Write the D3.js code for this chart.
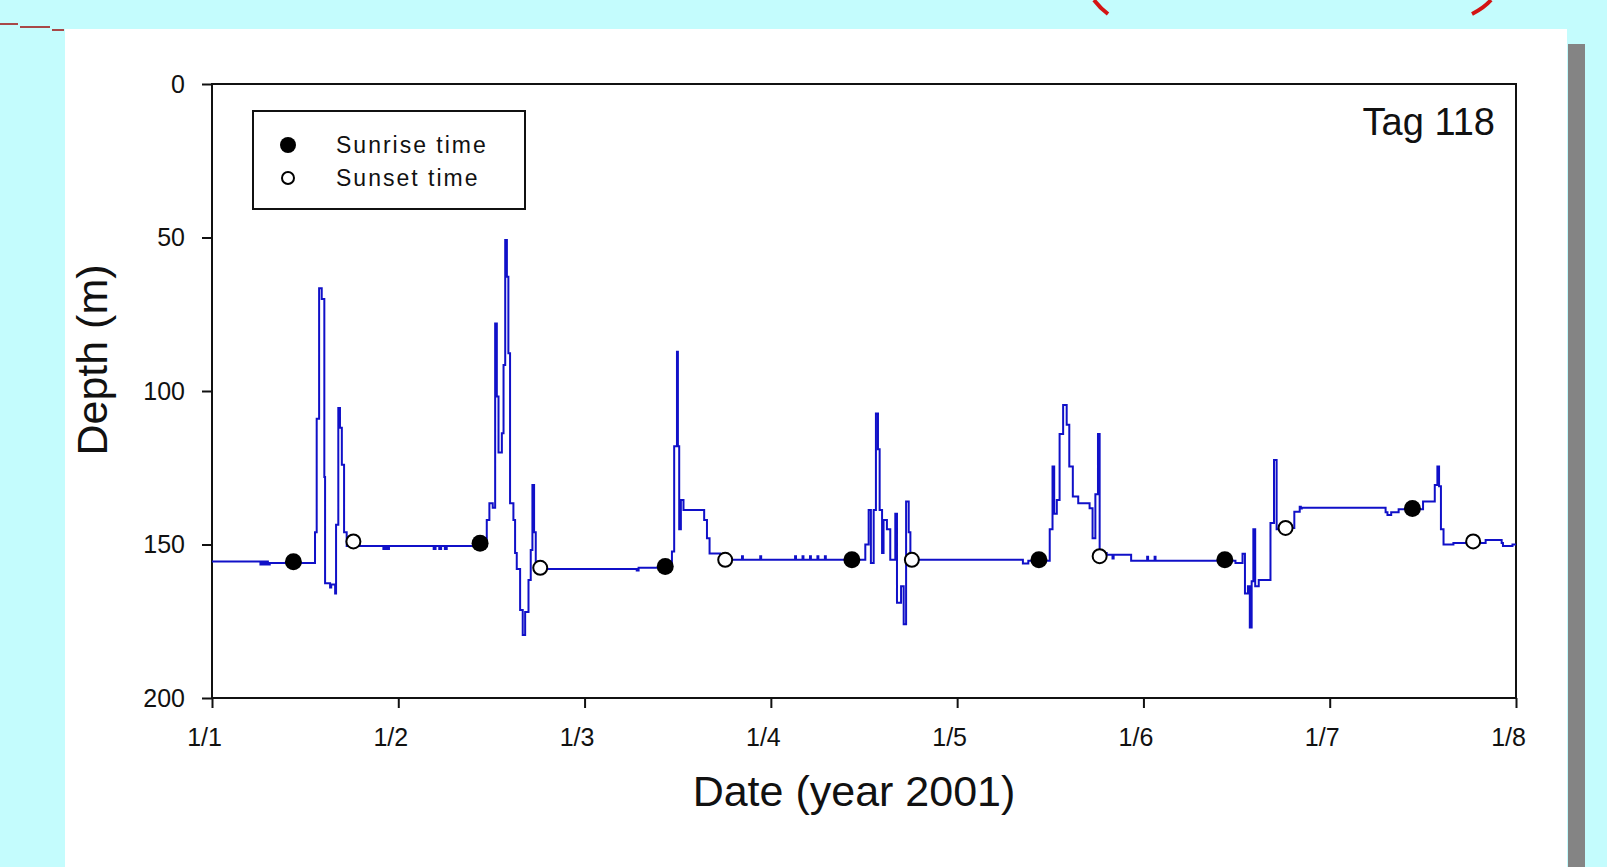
<!DOCTYPE html>
<html>
<head>
<meta charset="utf-8">
<script src="https://cdn.jsdelivr.net/npm/d3@7"></script>
<style>
  html, body { margin: 0; padding: 0; background: #c4fcfd; }
  svg { display: block; }
  text { font-family: "Liberation Sans", Arial, sans-serif; fill: #111; }
</style>
</head>
<body>
<svg id="chart" width="1607" height="867"></svg>
<script>
// depth trace, time in days since 1/1 00:00
const traceTime = [
  0.00, 0.26, 0.27, 0.28, 0.29, 0.30, 0.31, 0.34,
  0.553, 0.562, 0.575, 0.589, 0.603, 0.607, 0.634, 0.640, 0.661, 0.666, 0.678, 0.687, 0.697, 0.709, 0.723,
  0.92, 0.93, 0.94, 0.95, 1.19, 1.20, 1.22, 1.23, 1.25, 1.26,
  1.475, 1.489, 1.507, 1.520, 1.529, 1.538, 1.556, 1.565, 1.574, 1.583, 1.591, 1.600, 1.618, 1.627,
  1.636, 1.654, 1.668, 1.681, 1.699, 1.711, 1.720, 1.729, 1.738,
  2.28, 2.29,
  2.469, 2.481, 2.496, 2.501, 2.508, 2.517, 2.531, 2.642, 2.657, 2.671, 2.728,
  2.845, 2.85, 2.943, 2.948, 3.13, 3.135, 3.17, 3.175, 3.21, 3.215, 3.25, 3.255, 3.29, 3.295,
  3.507, 3.525, 3.537, 3.552, 3.564, 3.575, 3.584, 3.597, 3.605, 3.623, 3.641, 3.668, 3.677,
  3.699, 3.713, 3.726, 3.740, 3.749,
  4.353, 4.382,
  4.497, 4.512, 4.521, 4.535, 4.550, 4.569, 4.588, 4.602, 4.621, 4.650, 4.711, 4.727, 4.742,
  4.756, 4.765, 4.803, 4.834, 4.840, 4.934, 5.02, 5.025, 5.06, 5.065,
  5.494, 5.532, 5.545, 5.561, 5.571, 5.581, 5.590, 5.600, 5.619, 5.682, 5.701, 5.715,
  5.780, 5.810, 5.839, 5.845, 5.85, 6.30, 6.31, 6.33, 6.37,
  6.501, 6.564, 6.578, 6.587, 6.597, 6.611, 6.664, 6.80, 6.837, 6.923, 6.93, 6.981, 7.00
];
const traceDepth = [
  155.5, 156.5, 155.5, 156.5, 155.5, 156.5, 156, 156,
  146, 109, 66.5, 70, 128, 162.6, 164, 163, 166, 143.6, 105.5, 112, 124, 146, 150.5,
  151.5, 150.5, 151.5, 150.5, 151.5, 150.5, 151.5, 150.5, 151.5, 150.5,
  142, 136.6, 138, 78, 101.8, 120, 113.8, 91.5, 50.8, 62.8, 87.7, 136.6, 142, 152.8,
  158, 171.3, 179.5, 172, 161.6, 151.8, 130.6, 146, 158,
  158.5, 157.6,
  152.3, 118, 87.2, 118, 145, 135.5, 138.8, 142, 148, 152.9, 155,
  153.8, 155, 153.8, 155, 153.8, 155, 153.8, 155, 153.8, 155, 153.8, 155, 153.8, 155,
  150, 138.8, 156, 138.8, 107.3, 119, 138.8, 152.8, 142, 145, 155, 140, 169,
  163.6, 176, 136, 146, 155,
  156.2, 155.3,
  145, 124.6, 140, 135.5, 114, 104.6, 111, 124.6, 134.4, 136.6, 138.2, 148, 133.6,
  114, 152.8, 153.3, 154.6, 153.3, 155.3, 154, 155.3, 154, 155.3,
  156, 153, 166, 163.6, 177, 162, 145, 163.6, 161.6, 143, 122.5, 145,
  144.6, 139.3, 137.7, 138.3, 138, 139.5, 140.4, 139.5, 138.5,
  136, 130.6, 124.6, 131, 145, 150, 149.5, 149.5, 148.5, 149.5, 150.5, 150, 150
];

const sunriseTime = [0.437, 1.439, 2.433, 3.435, 4.439, 5.437, 6.444];
const sunriseDepth = [155.6, 149.6, 157.2, 155, 155, 155, 138.3];
const sunsetTime = [0.759, 1.762, 2.755, 3.757, 4.765, 5.763, 6.770];
const sunsetDepth = [149, 157.6, 155, 155, 153.8, 144.6, 149];

const dateTicks = [0, 1, 2, 3, 4, 5, 6, 7];
const dateLabels = ['1/1', '1/2', '1/3', '1/4', '1/5', '1/6', '1/7', '1/8'];
const depthTicks = [0, 50, 100, 150, 200];

const svg = d3.select('#chart');

// slide leftovers around the white panel
svg.append('path')
    .attr('d', 'M0,24 L18,24 M20,27 L50,27 M52,30 L64,30')
    .attr('stroke', '#a84848').attr('stroke-width', 2).attr('fill', 'none');
svg.append('path')
    .attr('d', 'M1094,0 Q1100,8 1108,14')
    .attr('stroke', '#d41414').attr('stroke-width', 4).attr('fill', 'none');
svg.append('path')
    .attr('d', 'M1491,0 Q1484,8 1472,14')
    .attr('stroke', '#d41414').attr('stroke-width', 4).attr('fill', 'none');

svg.append('rect')
    .attr('x', 1568).attr('y', 44).attr('width', 17).attr('height', 823)
    .attr('fill', '#848484');
svg.append('rect')
    .attr('x', 65).attr('y', 29).attr('width', 1502).attr('height', 838)
    .attr('fill', '#ffffff');

const plot = { left: 212, right: 1516, top: 84, bottom: 698 };

const x = d3.scaleLinear().domain([0, 7]).range([plot.left, plot.right]);
const y = d3.scaleLinear().domain([0, 200]).range([plot.top, plot.bottom]);

// frame
svg.append('rect')
    .attr('x', plot.left).attr('y', plot.top)
    .attr('width', plot.right - plot.left).attr('height', plot.bottom - plot.top)
    .attr('fill', 'none').attr('stroke', '#111').attr('stroke-width', 2);

const yAxis = svg.append('g')
    .attr('transform', `translate(${plot.left},0)`)
    .call(d3.axisLeft(y).tickValues(depthTicks).tickSize(10).tickPadding(17));
yAxis.select('.domain').remove();
yAxis.selectAll('line').attr('stroke', '#111').attr('stroke-width', 2);
yAxis.selectAll('text')
    .attr('font-size', 25).attr('fill', '#222')
    .attr('font-family', '"Liberation Sans", Arial, sans-serif');

const xAxis = svg.append('g')
    .attr('transform', `translate(0,${plot.bottom})`)
    .call(d3.axisBottom(x).tickValues(dateTicks)
        .tickFormat((d, i) => dateLabels[i]).tickSize(10).tickPadding(20));
xAxis.select('.domain').remove();
xAxis.selectAll('line').attr('stroke', '#111').attr('stroke-width', 2);
xAxis.selectAll('text')
    .attr('font-size', 25).attr('fill', '#222').attr('dx', -8)
    .attr('font-family', '"Liberation Sans", Arial, sans-serif');

// titles
svg.append('text')
    .attr('x', 854).attr('y', 806)
    .attr('text-anchor', 'middle').attr('font-size', 43)
    .text('Date (year 2001)');
svg.append('text')
    .attr('transform', 'translate(107,360) rotate(-90)')
    .attr('text-anchor', 'middle').attr('font-size', 43)
    .text('Depth (m)');
svg.append('text')
    .attr('x', 1495).attr('y', 135)
    .attr('text-anchor', 'end').attr('font-size', 38)
    .text('Tag 118');

// trace
const trace = traceTime.map((t, i) => [t, traceDepth[i]]);
svg.append('path')
    .datum(trace)
    .attr('fill', 'none')
    .attr('stroke', '#1010c8')
    .attr('stroke-width', 2)
    .attr('d', d3.line().x(d => x(d[0])).y(d => y(d[1])).curve(d3.curveStepAfter));

// sunrise / sunset markers
svg.selectAll('circle.sunrise')
    .data(sunriseTime.map((t, i) => [t, sunriseDepth[i]]))
    .join('circle')
    .attr('class', 'sunrise')
    .attr('cx', d => x(d[0])).attr('cy', d => y(d[1]))
    .attr('r', 8.5).attr('fill', '#000');
svg.selectAll('circle.sunset')
    .data(sunsetTime.map((t, i) => [t, sunsetDepth[i]]))
    .join('circle')
    .attr('class', 'sunset')
    .attr('cx', d => x(d[0])).attr('cy', d => y(d[1]))
    .attr('r', 7).attr('fill', '#fff').attr('stroke', '#000').attr('stroke-width', 2);

// legend
const legend = svg.append('g');
legend.append('rect')
    .attr('x', 253).attr('y', 111).attr('width', 272).attr('height', 98)
    .attr('fill', '#fff').attr('stroke', '#111').attr('stroke-width', 2);
legend.append('circle').attr('cx', 288).attr('cy', 145).attr('r', 8).attr('fill', '#000');
legend.append('circle').attr('cx', 288).attr('cy', 178).attr('r', 6)
    .attr('fill', '#fff').attr('stroke', '#000').attr('stroke-width', 2);
legend.append('text').attr('x', 336).attr('y', 153)
    .attr('font-size', 23).attr('letter-spacing', 2).text('Sunrise time');
legend.append('text').attr('x', 336).attr('y', 186)
    .attr('font-size', 23).attr('letter-spacing', 2).text('Sunset time');
</script>
</body>
</html>
